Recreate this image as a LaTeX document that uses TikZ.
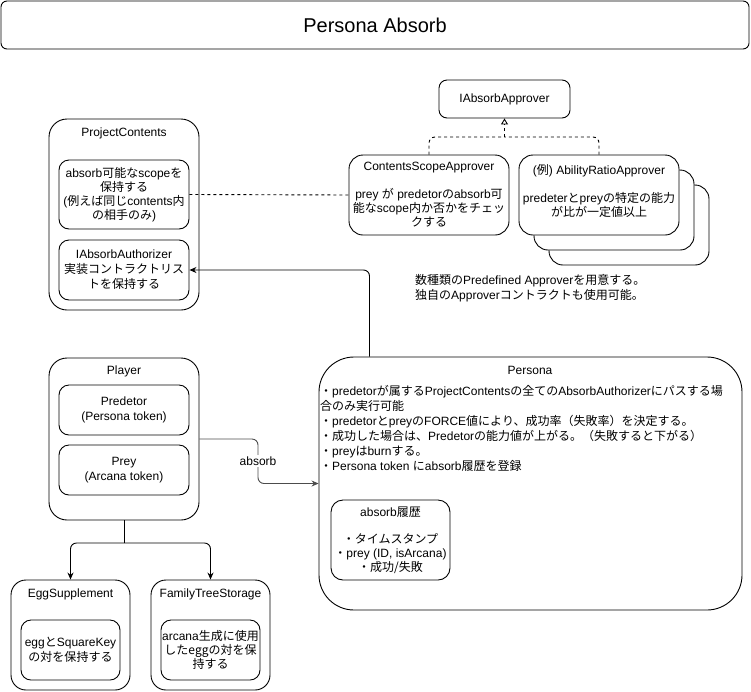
\documentclass[tikz,border=0pt]{standalone}
\usepackage{fontspec}
\setmainfont{Liberation Sans}
\newfontfamily\jp{Noto Sans CJK JP}
\newcommand\J[1]{{\jp #1}}
\usetikzlibrary{arrows.meta}
\begin{document}
\begin{tikzpicture}[x=1pt,y=-1pt,
  font=\fontsize{12}{14}\selectfont,
  box/.style={draw, line width=0.9pt, fill=white, rounded corners=#1, inner sep=0pt},
  box/.default=10pt,
  txt/.style={inner sep=0pt, align=center},
  conn/.style={line width=0.9pt},
  tip/.style={-{Stealth[length=7pt,width=6pt]}}
]
\useasboundingbox (0,0) rectangle (751,691);
% title
\node[box=6pt, minimum width=748pt, minimum height=48pt, font=\fontsize{20}{24}\selectfont] (title) at (375,25) {Persona Absorb};

% ProjectContents
\node[box=18pt, minimum width=150pt, minimum height=191pt] (pc) at (124,214.5) {};
\node[txt] (pcT) at (124,133) {ProjectContents};
\node[box=10pt, minimum width=130pt, minimum height=69pt, txt] (pc1) at (124,194.5)
  {absorb\J{可能な}scope\J{を}\\\J{保持する}\\(\J{例えば同じ}contents\J{内}\\\J{の相手のみ})};
\node[box=10pt, minimum width=130pt, minimum height=60pt, txt, font=\fontsize{12}{15}\selectfont] (pc2) at (124,270)
  {IAbsorbAuthorizer\\\J{実装コントラクトリス}\\\J{トを保持する}};

% Approvers
\node[box=8pt, minimum width=131pt, minimum height=38pt] (iaa) at (504.5,99) {IAbsorbApprover};
\node[box=14pt, minimum width=160pt, minimum height=80pt, txt] (csa) at (429,195)
  {ContentsScopeApprover\\[14pt]prey \J{が} predetor\J{の}absorb\J{可}\\\J{能な}scope\J{内か否かをチェッ}\\\J{クする}};
\node[box=14pt, minimum width=160pt, minimum height=80pt] (ara3) at (629,225) {};
\node[box=14pt, minimum width=160pt, minimum height=80pt] (ara2) at (614,210) {};
\node[box=14pt, minimum width=160pt, minimum height=80pt] (ara1) at (599,195) {};
\node[txt] (araT) at (599,190.5)
  {(\J{例}) AbilityRatioApprover\\[14pt]predeter\J{と}prey\J{の特定の能力}\\\J{が比が一定値以上}};
\node[txt, align=left, anchor=west, font=\fontsize{12}{15}\selectfont] (note) at (415,288.5)
  {\J{数種類の}Predefined Approver\J{を用意する。}\\\J{独自の}Approver\J{コントラクトも使用可能。}};

% Player
\node[box=18pt, minimum width=150pt, minimum height=162pt] (player) at (124,439) {};
\node[txt] (playerT) at (124,371) {Player};
\node[box=10pt, minimum width=130pt, minimum height=50pt, txt, font=\fontsize{12}{15}\selectfont] (pred) at (124,410) {Predetor\\(Persona token)};
\node[box=10pt, minimum width=130pt, minimum height=50pt, txt, font=\fontsize{12}{15}\selectfont] (prey) at (124,470) {Prey\\(Arcana token)};

% Persona
\node[box=35pt, minimum width=423pt, minimum height=253pt] (persona) at (530.5,483.5) {};
\node[txt] (personaT) at (530,370) {Persona};
\node[txt, align=left, anchor=north west, font=\fontsize{12}{15}\selectfont] (bul) at (320,385)
  {\J{・}predetor\J{が属する}ProjectContents\J{の全ての}AbsorbAuthorizer\J{にパスする場}\\
   \J{合のみ実行可能}\\
   \J{・}predetor\J{と}prey\J{の}FORCE\J{値により、成功率（失敗率）を決定する。}\\
   \J{・成功した場合は、}Predetor\J{の能力値が上がる。（失敗すると下がる）}\\
   \J{・}prey\J{は}burn\J{する。}\\
   \J{・}Persona token \J{に}absorb\J{履歴を登録}};
\node[box=12pt, minimum width=119pt, minimum height=80pt, txt] (hist) at (390.5,540)
  {absorb\J{履歴}\\[13pt]\J{・タイムスタンプ}\\\J{・}prey (ID, isArcana)\\\J{・成功/失敗}};

% Egg / Family
\node[box=15pt, minimum width=119pt, minimum height=110pt] (egg) at (70.5,635) {};
\node[txt] (eggT) at (70.5,594) {EggSupplement};
\node[box=10pt, minimum width=99pt, minimum height=60pt, txt, font=\fontsize{12}{15}\selectfont] (eggi) at (70.5,650) {egg\J{と}SquareKey\\\J{の対を保持する}};
\node[box=15pt, minimum width=119pt, minimum height=110pt] (fam) at (210.5,635) {};
\node[txt] (famT) at (210.5,594) {FamilyTreeStorage};
\node[box=10pt, minimum width=99pt, minimum height=60pt, txt] (fami) at (210.5,650) {arcana\J{生成に使用}\\\J{したeggの対を保}\\\J{持する}};

% connectors
\draw[conn, dashed] (pc1.east) -- (csa.west);
\coordinate (jn) at (504.5,137);
\draw[conn, dashed, rounded corners=6pt] (csa.north) |- (jn);
\draw[conn, dashed, rounded corners=6pt] (ara1.north) |- (jn);
\draw[conn, dashed, -{Triangle[open,length=6pt,width=7pt]}] (jn) -- (iaa.south);
\draw[conn, tip, rounded corners=6pt] ([xshift=-161pt]persona.north) |- (pc2.east);
\coordinate (ac) at (258,461);
\draw[conn, tip, rounded corners=6pt, draw=black!70] (player.east) -| (ac) |- (persona.west);
\node[txt, fill=white, inner sep=2pt] (absorbL) at (ac) {absorb};
\coordinate (split) at (124,543);
\draw[conn, rounded corners=6pt] (player.south) -- (split);
\draw[conn, tip, rounded corners=6pt] (split) -| (egg.north);
\draw[conn, tip, rounded corners=6pt] (split) -| (fam.north);
\end{tikzpicture}
\end{document}
